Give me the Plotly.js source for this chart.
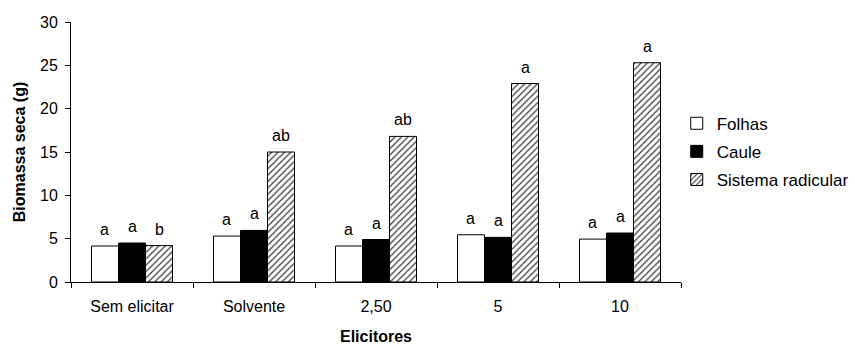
<!DOCTYPE html>
<html>
<head>
<meta charset="utf-8">
<script src="https://cdn.plot.ly/plotly-3.0.1.min.js"></script>
<style>html,body{margin:0;padding:0;background:#fff;}#chart{width:855px;height:345px;}</style>
</head>
<body>
<div id="chart"></div>
<script>
const categories = ['Sem elicitar', 'Solvente', '2,50', '5', '10'];
const folhas = [4.15, 5.3, 4.15, 5.45, 4.95];
const caule = [4.5, 5.95, 4.9, 5.15, 5.65];
const sistema = [4.2, 15.0, 16.8, 22.9, 25.3];
const folhasLetters = ['a', 'a', 'a', 'a', 'a'];
const cauleLetters = ['a', 'a', 'a', 'a', 'a'];
const sistemaLetters = ['b', 'ab', 'ab', 'a', 'a'];
const yTicks = [0, 5, 10, 15, 20, 25, 30];

const FONT = 'Liberation Sans, Arial, sans-serif';
const txtFont = {family: FONT, size: 16, color: '#000'};

const W = 855, H = 345;
const margin = {l: 71, r: 174, t: 22, b: 63};
const bargap = 0.336;
const plotW = W - margin.l - margin.r;
const barPx = plotW / categories.length * (1 - bargap) / 3;

const series = [
  {name: 'Folhas', values: folhas, letters: folhasLetters,
   marker: {color: '#ffffff', line: {color: '#000', width: 1}}},
  {name: 'Caule', values: caule, letters: cauleLetters,
   marker: {color: '#000000', line: {color: '#000', width: 1}}},
  {name: 'Sistema radicular', values: sistema, letters: sistemaLetters,
   marker: {color: '#ffffff', line: {color: '#000', width: 1},
            pattern: {shape: '/', fgcolor: '#444', bgcolor: '#fff', size: 4.5, solidity: 0.3}}}
];

const traces = series.map((s, i) => ({
  type: 'bar', name: s.name, x: categories, y: s.values, marker: s.marker,
  legendgroup: 'g' + i
}));

const annotations = [];
series.forEach((s, i) => {
  s.values.forEach((v, j) => {
    annotations.push({
      x: j, y: v, xref: 'x', yref: 'y', text: s.letters[j], showarrow: false,
      xanchor: 'center', yanchor: 'bottom', xshift: (i - 1) * barPx, yshift: 6,
      font: txtFont
    });
  });
});

const layout = {
  width: W, height: H,
  margin: Object.assign({autoexpand: false}, margin),
  paper_bgcolor: '#fff', plot_bgcolor: '#fff',
  barmode: 'group', bargap: bargap, bargroupgap: 0,
  font: {family: FONT, size: 16, color: '#000'},
  showlegend: true,
  legend: {x: 0.993, xanchor: 'left', y: 0.678, yanchor: 'top', traceorder: 'grouped', tracegroupgap: 3,
           font: {family: FONT, size: 17, color: '#000'}, bgcolor: 'rgba(0,0,0,0)'},
  annotations: annotations,
  xaxis: {
    type: 'category', showline: true, linecolor: '#000', linewidth: 1,
    ticks: 'outside', tickson: 'boundaries', ticklen: 5, tickcolor: '#000',
    ticklabelstandoff: 10, automargin: false,
    showgrid: false, zeroline: false, tickfont: {family: FONT, size: 16, color: '#000'},
    title: {text: '<b>Elicitores</b>', font: {family: FONT, size: 16, color: '#000'}, standoff: 20}
  },
  yaxis: {
    range: [0, 30], tickvals: yTicks, ticktext: yTicks.map(String),
    showline: true, linecolor: '#000', linewidth: 1, automargin: false,
    ticks: 'outside', ticklen: 5, tickcolor: '#000', ticklabelstandoff: 4,
    showgrid: false, zeroline: false, tickfont: {family: FONT, size: 16, color: '#000'},
    title: {text: '<b>Biomassa seca (g)</b>', font: {family: FONT, size: 16, color: '#000'}, standoff: 10}
  }
};

Plotly.newPlot('chart', traces, layout, {displayModeBar: false, staticPlot: true});
</script>
</body>
</html>
